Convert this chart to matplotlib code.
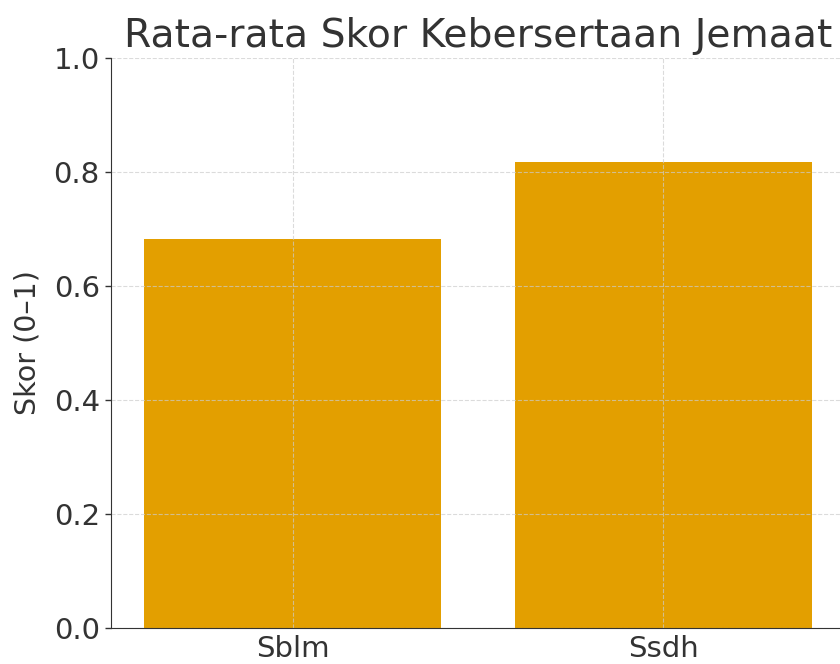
import matplotlib.pyplot as plt
import numpy as np

# rata-rata skor per kelompok
kelompok = ['Sblm', 'Ssdh']
skor = [0.682, 0.818]

plt.rcParams['font.family'] = 'DejaVu Sans'
plt.rcParams['text.color'] = '#333333'
plt.rcParams['axes.labelcolor'] = '#333333'
plt.rcParams['xtick.color'] = '#333333'
plt.rcParams['ytick.color'] = '#333333'

fig = plt.figure(figsize=(8.4, 6.64), dpi=100)
ax = fig.add_axes([0.132, 0.054, 0.874, 0.859])

x = np.arange(len(kelompok))
ax.bar(x, skor, width=0.8, color='#E39F00')
ax.set_xticks(x)
ax.set_xticklabels(kelompok, fontsize=21)
ax.set_ylim(0, 1.0)
ax.set_yticks(np.arange(0, 1.01, 0.2))
ax.set_yticklabels(['%.1f' % v for v in np.arange(0, 1.01, 0.2)], fontsize=21)
ax.set_ylabel('Skor (0–1)', fontsize=20.5, labelpad=9)
ax.set_title('Rata-rata Skor Kebersertaan Jemaat', fontsize=28.3, pad=8)

ax.grid(True, linestyle='--', linewidth=0.8, color='#cccccc', alpha=0.7)
ax.tick_params(axis='x', length=0, pad=5)
ax.tick_params(axis='y', length=4, width=1, pad=4)
ax.spines['top'].set_visible(False)
ax.spines['right'].set_visible(False)
for s in ('left', 'bottom'):
    ax.spines[s].set_color('#333333')

fig.savefig('out.png', dpi=100)
